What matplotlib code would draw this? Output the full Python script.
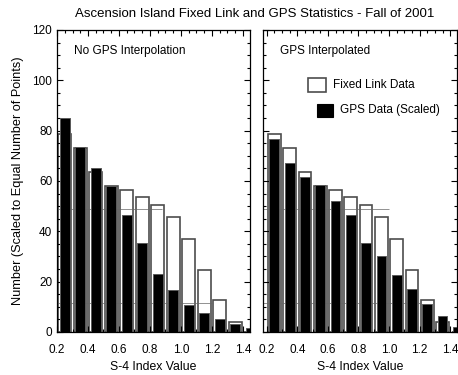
import numpy as np
import matplotlib
matplotlib.use("Agg")
import matplotlib.pyplot as plt
from matplotlib.patches import Rectangle
from matplotlib.ticker import MultipleLocator

plt.rcParams['font.family'] = ['Liberation Sans', 'DejaVu Sans']

# --- data ---
bin_centers = [0.25, 0.35, 0.45, 0.55, 0.65, 0.75, 0.85, 0.95, 1.05, 1.15, 1.25, 1.35, 1.45]
fixed_link = [78.5, 73, 63.5, 58, 56.5, 53.5, 50.5, 45.5, 37, 24.5, 12.5, 4, 0]
gps_no_interp = [85, 73.5, 65, 58, 46.5, 35.5, 23, 16.5, 10.5, 7.5, 5, 3, 1.5]
gps_interp = [76.5, 67, 61.5, 58.5, 52, 46.5, 35.5, 30, 22.5, 17, 11, 6.5, 2]
ref_levels = [48.7, 11.5]
ref_ends_left = [0.88, 1.2]
ref_ends_right = [1.0, 1.2]
panel_titles = ["No GPS Interpolation", "GPS Interpolated"]
tick_vals = [0.2, 0.4, 0.6, 0.8, 1.0, 1.2, 1.4]
tick_labels = ["0.2", "0.4", "0.6", "0.8", "1.0", "1.2", "1.4"]

fig = plt.figure(figsize=(4.58, 3.75), dpi=100)
ax_l = fig.add_axes([0.1245, 0.115, 0.421, 0.805])
ax_r = fig.add_axes([0.574, 0.115, 0.424, 0.805])

fig.text(0.555, 0.962, "Ascension Island Fixed Link and GPS Statistics - Fall of 2001",
         ha="center", va="center", fontsize=9.5)

for ax, gps, name, xlo, ends in [(ax_l, gps_no_interp, panel_titles[0], 0.2, ref_ends_left),
                                 (ax_r, gps_interp, panel_titles[1], 0.175, ref_ends_right)]:
    ax.bar(bin_centers, fixed_link, width=0.083, color="white", edgecolor="0.3",
           linewidth=1.2, zorder=1)
    # faint horizontal marks seen in the original
    ax.hlines(ref_levels, xlo, ends, color="0.4", lw=0.5, zorder=1.5)
    ax.bar(bin_centers, gps, width=0.064, color="black", edgecolor="0.35",
           linewidth=0.7, zorder=2)
    ax.set_xlim(xlo, 1.445)
    ax.set_ylim(0, 120)
    ax.xaxis.set_minor_locator(MultipleLocator(0.05))
    ax.yaxis.set_major_locator(MultipleLocator(20))
    ax.yaxis.set_minor_locator(MultipleLocator(5))
    ax.tick_params(which="both", direction="in", top=True, right=True,
                   labelsize=8.5, width=0.8)
    ax.tick_params(which="major", length=4)
    ax.tick_params(which="minor", length=2)
    ax.tick_params(axis="x", which="major", pad=9)
    ax.set_xticks(tick_vals)
    ax.set_xticklabels(tick_labels)
    ax.set_xlabel("S-4 Index Value", fontsize=8.8, labelpad=3)
    ax.text(0.09, 0.93, name, transform=ax.transAxes, fontsize=8.5, va="center")
    for s in ax.spines.values():
        s.set_linewidth(0.9)

ax_r.tick_params(axis="y", labelleft=False)
ax_l.set_ylabel("Number (Scaled to Equal Number of Points)", fontsize=9.2, labelpad=6)

# legend (hand placed like the original)
ax_r.add_patch(Rectangle((0.23, 0.795), 0.095, 0.045, transform=ax_r.transAxes,
                         facecolor="white", edgecolor="0.3", lw=1.2, clip_on=False))
ax_r.text(0.36, 0.817, "Fixed Link Data", transform=ax_r.transAxes, fontsize=8.5, va="center")
ax_r.add_patch(Rectangle((0.28, 0.712), 0.08, 0.042, transform=ax_r.transAxes,
                         facecolor="black", edgecolor="black", lw=0.8, clip_on=False))
ax_r.text(0.395, 0.735, "GPS Data (Scaled)", transform=ax_r.transAxes, fontsize=8.5, va="center")

fig.savefig("out.png", dpi=100)
